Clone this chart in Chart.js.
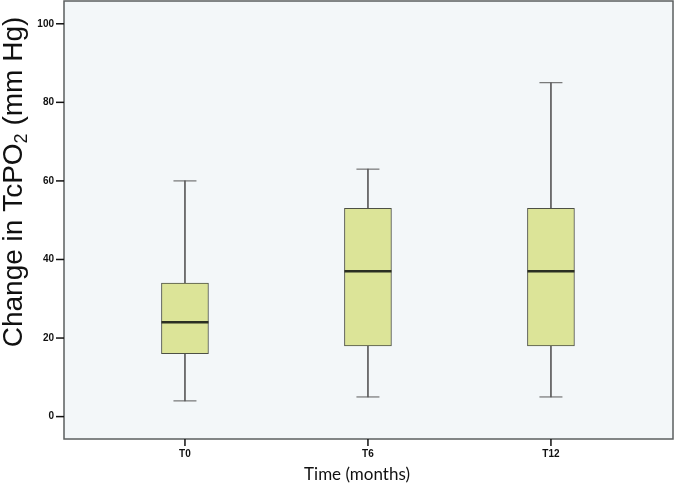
<!DOCTYPE html>
<html>
<head>
<meta charset="utf-8">
<script src="https://cdn.jsdelivr.net/npm/chart.js@4.4.1/dist/chart.umd.min.js"></script>
<style>
  html, body { margin: 0; padding: 0; background: #ffffff; }
  #wrap { width: 675px; height: 486px; }
</style>
</head>
<body>
<div id="wrap"><canvas id="box-chart"></canvas></div>
<script>
// Box plot data (mm Hg)
const categories = ['T0', 'T6', 'T12'];
const whiskerMin = [4, 5, 5];
const quartile1 = [16, 18, 18];
const medians = [24, 37, 37];
const quartile3 = [34, 53, 53];
const whiskerMax = [60, 63, 85];
const yTicks = [0, 20, 40, 60, 80, 100];

const positions = categories.map((c, i) => i);

// drop the label padding chart.js reserves so the plot area fills the frame
function noPadding(scale) {
  scale.paddingTop = 0;
  scale.paddingBottom = 0;
  scale.paddingLeft = 0;
  scale.paddingRight = 0;
}

// Plot background, frame, tick marks and axis titles
const frame = {
  id: 'frame',
  beforeDraw(chart) {
    const { ctx, chartArea: a } = chart;
    ctx.save();
    ctx.fillStyle = '#f3f7f9';
    ctx.fillRect(a.left, a.top, a.right - a.left, a.bottom - a.top);
    ctx.restore();
  },
  afterDraw(chart) {
    const { ctx, chartArea: a, scales } = chart;
    ctx.save();
    ctx.strokeStyle = '#5b5f5f';
    ctx.lineWidth = 1.5;
    ctx.strokeRect(a.left, a.top, a.right - a.left, a.bottom - a.top);

    // tick marks outside the frame
    ctx.strokeStyle = '#111111';
    ctx.lineWidth = 1.5;
    yTicks.forEach(v => {
      const py = scales.y.getPixelForValue(v);
      ctx.beginPath();
      ctx.moveTo(a.left - 8, py);
      ctx.lineTo(a.left, py);
      ctx.stroke();
    });
    positions.forEach(v => {
      const px = scales.x.getPixelForValue(v);
      ctx.beginPath();
      ctx.moveTo(px, a.bottom);
      ctx.lineTo(px, a.bottom + 7);
      ctx.stroke();
    });

    // y axis title with subscript
    ctx.fillStyle = '#111111';
    ctx.textBaseline = 'alphabetic';
    const big = '28px "Liberation Sans", Arial, sans-serif';
    const small = '18px "Liberation Sans", Arial, sans-serif';
    const p1 = 'Change in TcPO', p2 = '2', p3 = ' (mm Hg)';
    ctx.font = big;
    const w1 = ctx.measureText(p1).width, w3 = ctx.measureText(p3).width;
    ctx.font = small;
    const w2 = ctx.measureText(p2).width;
    const total = w1 + w2 + w3;
    ctx.translate(22, 182);
    ctx.rotate(-Math.PI / 2);
    let x = -total / 2;
    ctx.font = big;
    ctx.fillText(p1, x, 0);
    x += w1;
    ctx.font = small;
    ctx.fillText(p2, x, 5);
    x += w2;
    ctx.font = big;
    ctx.fillText(p3, x, 0);
    ctx.setTransform(1, 0, 0, 1, 0, 0);

    // x axis title
    ctx.font = '17px Lato, "Open Sans", sans-serif';
    ctx.textAlign = 'center';
    ctx.fillText('Time (months)', 357, 480);
    ctx.restore();
  }
};

const ctx = document.getElementById('box-chart').getContext('2d');
const boxChart = new Chart(ctx, {
  data: {
    datasets: [
      {
        type: 'bar',
        label: 'whisker',
        data: positions.map(i => ({ x: i, y: [whiskerMin[i], whiskerMax[i]] })),
        backgroundColor: '#5a5a5a',
        borderWidth: 0,
        barThickness: 1,
        grouped: false,
        order: 3,
      },
      {
        type: 'bar',
        label: 'box',
        data: positions.map(i => ({ x: i, y: [quartile1[i], quartile3[i]] })),
        backgroundColor: 'rgb(220, 228, 152)',
        borderColor: '#4d5045',
        borderWidth: 1,
        borderSkipped: false,
        barThickness: 47,
        grouped: false,
        order: 2,
      },
      {
        type: 'line',
        label: 'median',
        data: positions.map(i => ({ x: i, y: medians[i] })),
        showLine: false,
        pointStyle: 'line',
        pointRadius: 23.5,
        pointBorderWidth: 2.5,
        pointBorderColor: '#2b2f22',
        order: 1,
      },
      {
        type: 'line',
        label: 'caps',
        data: positions.flatMap(i => [
          { x: i, y: whiskerMin[i] },
          { x: i, y: whiskerMax[i] },
        ]),
        showLine: false,
        pointStyle: 'line',
        pointRadius: 11.5,
        pointBorderWidth: 1,
        pointBorderColor: '#5a5a5a',
        order: 1,
      },
    ],
  },
  options: {
    responsive: true,
    maintainAspectRatio: false,
    animation: false,
    events: [],
    layout: { autoPadding: false, padding: { top: 1, right: 2, left: 0, bottom: 0 } },
    plugins: {
      legend: { display: false },
      tooltip: { enabled: false },
    },
    scales: {
      x: {
        type: 'linear',
        min: -0.661,
        max: 2.667,
        offset: false,
        afterFit(scale) { scale.height = 47; noPadding(scale); },
        afterBuildTicks(scale) { scale.ticks = positions.map(v => ({ value: v })); },
        border: { display: false },
        grid: { display: false, drawTicks: true, tickLength: 6 },
        ticks: {
          padding: 3,
          color: '#111111',
          font: { family: '"Liberation Sans", Arial, sans-serif', size: 10, weight: 'bold' },
          callback: v => categories[v],
        },
      },
      y: {
        min: -5.7,
        max: 105.8,
        afterFit(scale) { scale.width = 64; noPadding(scale); },
        afterBuildTicks(scale) { scale.ticks = yTicks.map(v => ({ value: v })); },
        border: { display: false },
        grid: { display: false, drawTicks: true, tickLength: 7 },
        ticks: {
          padding: 3,
          color: '#111111',
          font: { family: '"Liberation Sans", Arial, sans-serif', size: 10, weight: 'bold' },
        },
      },
    },
  },
  plugins: [frame],
});
</script>
</body>
</html>
